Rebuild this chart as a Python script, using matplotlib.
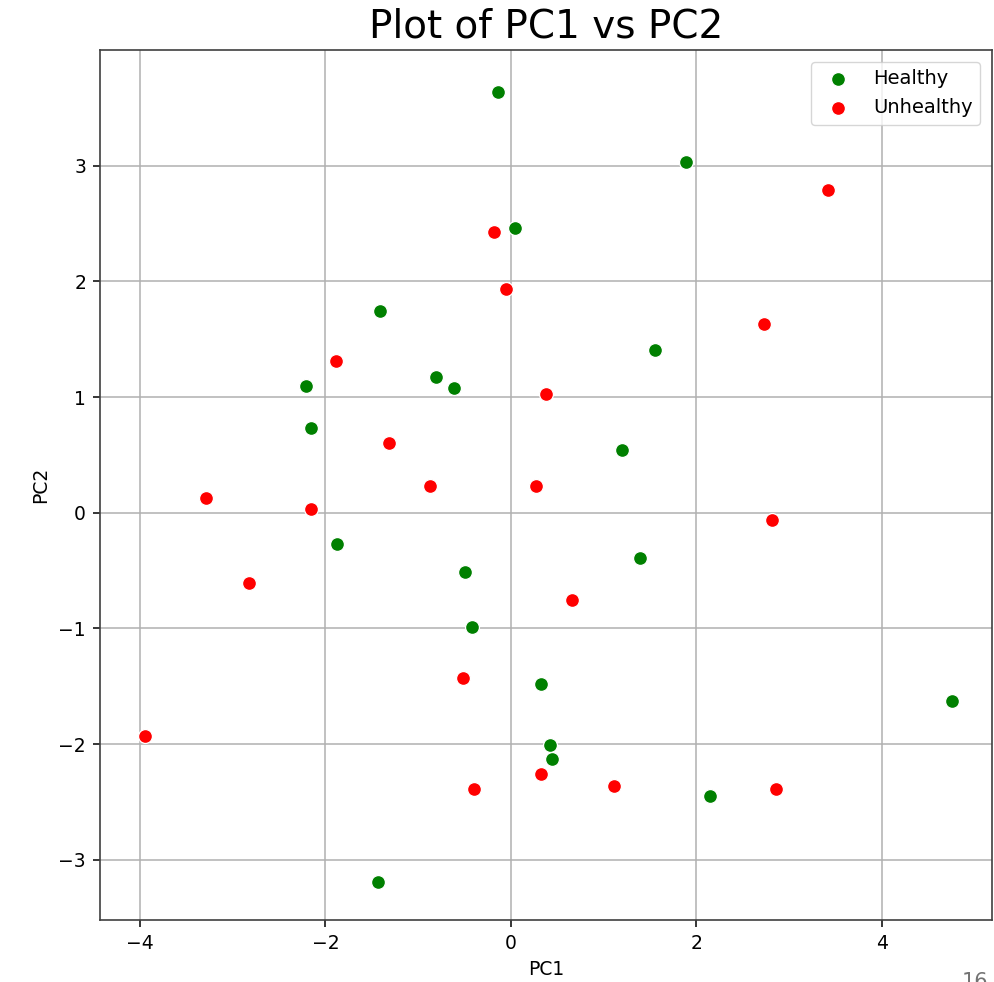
import matplotlib
matplotlib.use("Agg")
import matplotlib.pyplot as plt

# PCA scores
healthy_pc1 = [-0.14, 1.89, 0.05, -1.41, 1.56, -2.21, -0.81, -0.61, -2.15, 1.20,
               -1.87, 1.39, -0.49, -0.42, 0.33, 4.76, 0.42, 0.44, 2.15, -1.43]
healthy_pc2 = [3.64, 3.03, 2.46, 1.74, 1.41, 1.10, 1.17, 1.08, 0.73, 0.54,
               -0.27, -0.39, -0.51, -0.99, -1.48, -1.63, -2.01, -2.13, -2.45, -3.19]
unhealthy_pc1 = [3.42, -0.18, -0.05, 2.73, -1.89, 0.38, -1.31, -0.87, 0.27, -3.29,
                 -2.15, 2.82, -2.82, 0.66, -0.51, -3.94, 0.33, -0.40, 1.11, 2.86]
unhealthy_pc2 = [2.79, 2.43, 1.93, 1.63, 1.31, 1.03, 0.60, 0.23, 0.23, 0.13,
                 0.03, -0.06, -0.61, -0.75, -1.43, -1.93, -2.26, -2.39, -2.36, -2.39]

fig = plt.figure(figsize=(9.94, 9.82), dpi=100)
ax = fig.add_axes([100 / 994, 1 - 920 / 982, 892 / 994, 870 / 982])

ax.scatter(healthy_pc1, healthy_pc2, s=100, color="green", edgecolor="white",
           linewidth=0.9, label="Healthy", zorder=3)
ax.scatter(unhealthy_pc1, unhealthy_pc2, s=100, color="red", edgecolor="white",
           linewidth=0.9, label="Unhealthy", zorder=3)

ax.set_xlim(-4.43, 5.19)
ax.set_ylim(-3.52, 4.0)
ax.set_xticks([-4, -2, 0, 2, 4])
ax.set_yticks([-3, -2, -1, 0, 1, 2, 3])
ax.tick_params(labelsize=13.5, length=5, width=1.1, pad=5)
ax.grid(True, color="#b0b0b0", lw=1.1)
ax.set_axisbelow(True)
for sp in ax.spines.values():
    sp.set_linewidth(1.2)
    sp.set_color("0.25")
ax.set_xlabel("PC1", fontsize=13.5, labelpad=5)
ax.set_ylabel("PC2", fontsize=13.5, labelpad=6)
ax.set_title("Plot of PC1 vs PC2", fontsize=28, pad=9)
ax.legend(loc="upper right", fontsize=14, borderaxespad=0.6)

# slide number, cut off by the bottom edge in the reference
fig.text(962 / 994, 1 - 972 / 982, "16", fontsize=15, color="0.45",
         va="top", ha="left")

fig.savefig("out.png", dpi=100)
